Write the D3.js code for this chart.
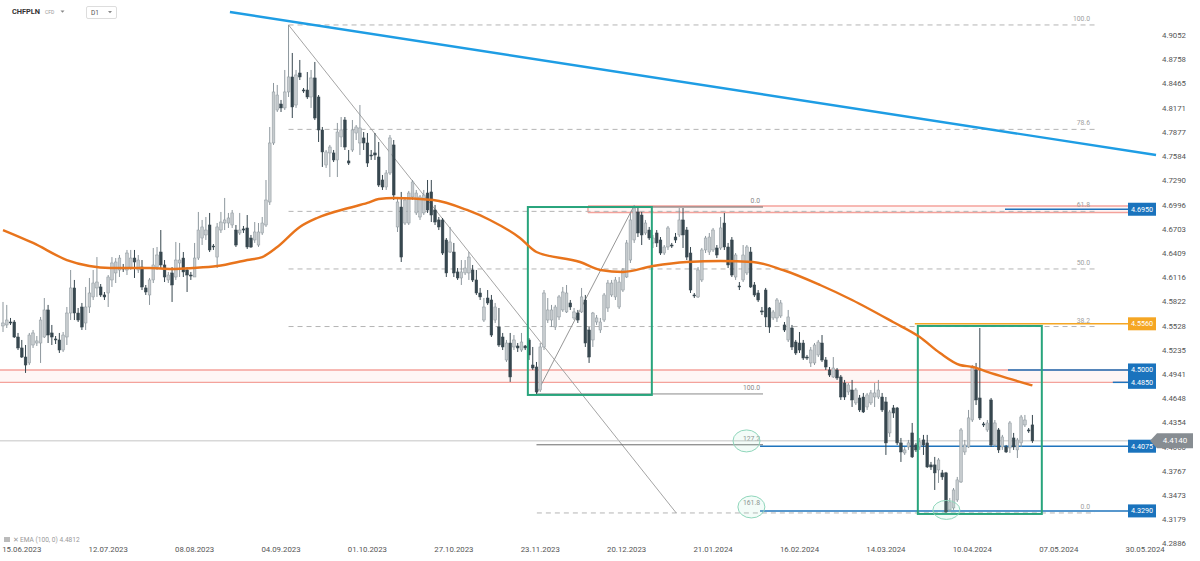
<!DOCTYPE html>
<html><head><meta charset="utf-8">
<script src="https://cdn.jsdelivr.net/npm/d3@7"></script>
<style>body{margin:0;background:#fff;}svg{display:block;font-family:Roboto,"Noto Sans",sans-serif;}</style>
</head><body><svg id="c" width="1200" height="561"></svg>
<script>
// ---- data (CHFPLN, D1) ----
const open = [
4.5534,4.5546,4.5582,4.5582,4.5400,4.5267,4.5157,4.5085,4.5303,4.5327,
4.5327,4.5400,4.5728,4.5449,4.5376,4.5364,4.5242,4.5400,4.5691,4.5995,
4.5691,4.5764,4.5570,4.5764,4.5886,4.5995,4.6007,4.5910,4.5934,4.6092,
4.6177,4.6213,4.6237,4.6213,4.6237,4.6358,4.6213,4.6249,4.5995,4.5910,
4.6092,4.6249,4.6431,4.6274,4.6092,4.6177,4.6128,4.6298,4.6358,4.6213,
4.6152,4.6128,4.6358,4.6601,4.6638,4.6759,4.6504,4.6370,4.6698,4.6783,
4.6783,4.6759,4.6698,4.6662,4.6711,4.6723,4.6601,4.6577,4.6516,4.6662,
4.6759,4.7038,4.7754,4.8154,4.8227,4.8179,4.8373,4.8555,4.8215,4.8603,
4.8397,4.8397,4.8312,4.8543,4.8312,4.7912,4.7487,4.7633,4.7633,4.7548,
4.7827,4.8033,4.7536,4.7669,4.7875,4.7754,4.7815,4.7754,4.7608,4.7633,
4.7584,4.7305,4.7220,4.7390,4.7730,4.6735,4.6977,4.6783,4.6783,4.7099,
4.6905,4.6856,4.6905,4.7147,4.7160,4.6941,4.6820,4.6820,4.6577,4.6431,
4.6431,4.6189,4.6116,4.6177,4.6177,4.6213,4.6092,4.5934,4.5606,4.5873,
4.5849,4.5606,4.5521,4.5400,4.5121,4.5327,4.5279,4.5291,4.5242,4.5291,
4.5364,4.5060,4.5036,4.4757,4.5279,4.5606,4.5606,4.5521,4.5643,4.5728,
4.5704,4.5813,4.5631,4.5691,4.5704,4.5849,4.5485,4.5364,4.5582,4.5485,
4.5606,4.5752,4.5910,4.5886,4.5764,4.5970,4.6128,4.6334,4.6577,4.6917,
4.6880,4.6662,4.6698,4.6541,4.6662,4.6577,4.6419,4.6492,4.6516,4.6613,
4.6638,4.6820,4.6698,4.6419,4.5910,4.5886,4.6092,4.6456,4.6431,4.6456,
4.6480,4.6480,4.6783,4.6492,4.6577,4.6128,4.6019,4.6092,4.6177,4.6431,
4.6031,4.5934,4.5716,4.5970,4.5752,4.5631,4.5631,4.5655,4.5546,4.5364,
4.5509,4.5339,4.5327,4.5327,4.5157,4.5085,4.5085,4.5182,4.5327,4.5121,
4.5000,4.4915,4.5000,4.4915,4.4842,4.4733,4.4757,4.4600,4.4660,4.4672,
4.4551,4.4600,4.4672,4.4672,4.4672,4.4612,4.4236,4.4539,4.4539,4.4115,
4.3993,4.4066,4.4236,4.4090,4.4066,4.4151,4.4115,4.3848,4.3848,4.3787,
4.3751,4.3751,4.3302,4.3326,4.3423,4.3641,4.4005,4.4066,4.4393,4.5000,
4.4660,4.4345,4.4272,4.4636,4.4090,4.4272,4.4066,4.4066,4.4054,4.4175,
4.4030,4.4115,4.4333,4.4272,4.4333];
const high = [
4.5825,4.5789,4.5631,4.5606,4.5449,4.5364,4.5303,4.5449,4.5485,4.5412,
4.5643,4.5873,4.5789,4.5546,4.5412,4.5449,4.5461,4.5764,4.6213,4.6092,
4.5752,4.5813,4.6007,4.6116,4.6213,4.6370,4.6043,4.5946,4.6152,4.6370,
4.6358,4.6395,4.6286,4.6456,4.6456,4.6456,4.6395,4.6334,4.6031,4.6116,
4.6480,4.6492,4.6698,4.6334,4.6189,4.6249,4.6553,4.6541,4.6431,4.6249,
4.6189,4.6541,4.6917,4.6820,4.6856,4.6905,4.6528,4.6783,4.6917,4.7087,
4.6905,4.6941,4.6759,4.6905,4.6747,4.6880,4.6638,4.6795,4.6783,4.6856,
4.7305,4.7948,4.8482,4.8458,4.8276,4.8640,4.9186,4.8846,4.8640,4.8761,
4.8421,4.8615,4.8640,4.8737,4.8336,4.7948,4.7669,4.7730,4.7669,4.7997,
4.8069,4.8069,4.7669,4.8033,4.7972,4.8215,4.7887,4.7875,4.7669,4.7875,
4.7766,4.7366,4.7426,4.7851,4.7790,4.7099,4.7160,4.7099,4.7172,4.7305,
4.7184,4.7123,4.7184,4.7305,4.7305,4.7002,4.6856,4.6844,4.6601,4.6735,
4.6541,4.6237,4.6334,4.6334,4.6431,4.6274,4.6213,4.5995,4.5873,4.5970,
4.5910,4.5813,4.5752,4.5449,4.5364,4.5449,4.5424,4.5327,4.5449,4.5303,
4.5388,4.5279,4.5097,4.5327,4.5970,4.5873,4.5789,4.5789,4.5910,4.6007,
4.6031,4.5849,4.5752,4.5728,4.5995,4.5910,4.5521,4.5704,4.5667,4.5631,
4.5934,4.6092,4.6092,4.6128,4.6128,4.6237,4.6577,4.6905,4.7002,4.6965,
4.6917,4.6820,4.6735,4.6638,4.6698,4.6613,4.6516,4.6747,4.6541,4.6662,
4.6965,4.6965,4.6735,4.6492,4.5934,4.6249,4.6480,4.6626,4.6662,4.6723,
4.6516,4.6856,4.6905,4.6541,4.6613,4.6419,4.6067,4.6516,4.6516,4.6492,
4.6067,4.5970,4.5764,4.5995,4.5764,4.5728,4.5873,4.5849,4.5582,4.5728,
4.5546,4.5364,4.5461,4.5364,4.5182,4.5279,4.5327,4.5364,4.5424,4.5157,
4.5036,4.5157,4.5024,4.4939,4.4879,4.4842,4.4879,4.4782,4.4697,4.4721,
4.4721,4.4757,4.4842,4.4879,4.4721,4.4672,4.4515,4.4575,4.4551,4.4175,
4.4066,4.4151,4.4357,4.4115,4.4175,4.4212,4.4212,4.3884,4.3945,4.3932,
4.3787,4.3763,4.3447,4.3568,4.3702,4.4296,4.4151,4.4515,4.5060,4.5085,
4.5509,4.4369,4.4393,4.4660,4.4393,4.4296,4.4212,4.4090,4.4381,4.4236,
4.4175,4.4454,4.4454,4.4296,4.4454];
const low = [
4.5461,4.5509,4.5546,4.5388,4.5242,4.5145,4.4964,4.5060,4.5267,4.5291,
4.5085,4.5388,4.5327,4.5303,4.5315,4.5206,4.5218,4.5303,4.5606,4.5606,
4.5582,4.5485,4.5485,4.5691,4.5849,4.5886,4.5886,4.5849,4.5764,4.6007,
4.6055,4.6128,4.6189,4.6152,4.6213,4.6116,4.6177,4.5970,4.5910,4.5789,
4.6055,4.6213,4.6237,4.6067,4.6055,4.5825,4.6092,4.6128,4.6128,4.5946,
4.6092,4.6128,4.6334,4.6516,4.6577,4.6431,4.6456,4.6237,4.6662,4.6698,
4.6723,4.6723,4.6492,4.6638,4.6662,4.6468,4.6480,4.6541,4.6492,4.6638,
4.6735,4.7002,4.7730,4.8130,4.8130,4.8154,4.8312,4.8057,4.8179,4.8518,
4.8361,4.8288,4.8179,4.8033,4.7766,4.7463,4.7451,4.7341,4.7523,4.7341,
4.7705,4.7669,4.7487,4.7645,4.7790,4.7608,4.7669,4.7463,4.7548,4.7548,
4.7220,4.7184,4.7184,4.7366,4.7062,4.6674,4.6310,4.6759,4.6759,4.7062,
4.6880,4.6820,4.6880,4.6905,4.6795,4.6759,4.6698,4.6395,4.6128,4.6419,
4.6128,4.6092,4.6031,4.6152,4.6092,4.6067,4.5910,4.5849,4.5582,4.5789,
4.5400,4.5570,4.5279,4.5242,4.5097,4.4855,4.5242,4.5218,4.5218,4.5242,
4.5121,4.5000,4.4709,4.4733,4.5242,4.5570,4.5521,4.5485,4.5606,4.5704,
4.5691,4.5728,4.5606,4.5570,4.5691,4.5279,4.5085,4.5279,4.5546,4.5449,
4.5582,4.5704,4.5886,4.5849,4.5740,4.5946,4.6116,4.6298,4.6541,4.6613,
4.6516,4.6638,4.6577,4.6480,4.6492,4.6395,4.6395,4.6456,4.6480,4.6541,
4.6613,4.6480,4.6334,4.5934,4.5873,4.5873,4.6067,4.6419,4.6395,4.6431,
4.6358,4.6456,4.6456,4.6237,4.6128,4.6092,4.5970,4.6067,4.6152,4.5995,
4.5886,4.5825,4.5667,4.5521,4.5449,4.5606,4.5582,4.5631,4.5461,4.5339,
4.5242,4.5182,4.5206,4.5121,4.5121,4.5036,4.5060,4.5157,4.5097,4.5000,
4.4915,4.4903,4.4879,4.4636,4.4636,4.4697,4.4551,4.4575,4.4490,4.4478,
4.4515,4.4575,4.4551,4.4648,4.4490,4.3969,4.4187,4.4418,4.4090,4.3884,
4.3969,4.4030,4.3932,4.4005,4.4030,4.3969,4.3811,4.3787,4.3544,4.3629,
4.3666,4.3265,4.3277,4.3302,4.3399,4.3629,4.3969,4.4054,4.4369,4.4575,
4.4393,4.4308,4.4248,4.4066,4.4066,4.3993,4.4030,4.3993,4.3993,4.4030,
4.3932,4.4066,4.4308,4.4236,4.4115];
const close = [
4.5570,4.5606,4.5576,4.5400,4.5267,4.5157,4.5060,4.5424,4.5449,4.5352,
4.5606,4.5728,4.5424,4.5400,4.5364,4.5242,4.5424,4.5691,4.5995,4.5691,
4.5606,4.5521,4.5764,4.5934,4.6055,4.6067,4.5910,4.5886,4.6128,4.6298,
4.6310,4.6358,4.6225,4.6419,4.6358,4.6310,4.6334,4.6007,4.5946,4.6092,
4.6274,4.6395,4.6274,4.6128,4.6152,4.6031,4.6334,4.6334,4.6189,4.6152,
4.6140,4.6358,4.6698,4.6735,4.6698,4.6456,4.6492,4.6735,4.6795,4.6820,
4.6844,4.6905,4.6516,4.6698,4.6698,4.6492,4.6492,4.6674,4.6674,4.6783,
4.7062,4.7754,4.8373,4.8336,4.8179,4.8373,4.8555,4.8191,4.8579,4.8555,
4.8385,4.8312,4.8543,4.8057,4.7912,4.7645,4.7645,4.7705,4.7548,4.7887,
4.7912,4.7705,4.7511,4.7912,4.7948,4.7936,4.7754,4.7511,4.7596,4.7608,
4.7244,4.7220,4.7390,4.7815,4.7123,4.7038,4.6370,4.7062,4.7147,4.7281,
4.7147,4.7099,4.7123,4.6941,4.6880,4.6795,4.6735,4.6419,4.6177,4.6553,
4.6177,4.6116,4.6189,4.6237,4.6370,4.6092,4.5934,4.5886,4.5764,4.5813,
4.5424,4.5764,4.5303,4.5279,4.5327,4.4915,4.5364,4.5267,4.5339,4.5267,
4.5182,4.5024,4.4733,4.5279,4.5934,4.5728,4.5728,4.5764,4.5886,4.5946,
4.5934,4.5764,4.5704,4.5606,4.5886,4.5327,4.5157,4.5691,4.5631,4.5582,
4.5910,4.6055,4.6055,4.6092,4.6067,4.6213,4.6541,4.6820,4.6965,4.6662,
4.6638,4.6783,4.6601,4.6601,4.6541,4.6419,4.6492,4.6723,4.6504,4.6577,
4.6820,4.6638,4.6370,4.5970,4.5898,4.6213,4.6456,4.6601,4.6613,4.6698,
4.6395,4.6723,4.6492,4.6274,4.6152,4.6395,4.6007,4.6395,4.6492,4.6007,
4.5910,4.5849,4.5704,4.5643,4.5521,4.5704,4.5849,4.5813,4.5485,4.5643,
4.5279,4.5206,4.5242,4.5145,4.5145,4.5242,4.5303,4.5339,4.5121,4.5036,
4.4939,4.5024,4.4903,4.4672,4.4672,4.4818,4.4636,4.4757,4.4515,4.4490,
4.4697,4.4721,4.4721,4.4757,4.4515,4.4115,4.4490,4.4478,4.4115,4.4005,
4.4030,4.4115,4.3945,4.4030,4.4127,4.4090,4.3823,4.3823,4.3751,4.3908,
4.3702,4.3277,4.3399,4.3544,4.3666,4.4272,4.4090,4.4418,4.5036,4.4636,
4.4418,4.4333,4.4357,4.4090,4.4357,4.4030,4.4187,4.4005,4.4357,4.4066,
4.4151,4.4430,4.4393,4.4260,4.4140];

// EMA(100): bar index / value
const emaIdx = [0,8,17,23,28.5,39,45,50.6,57,65,69,73,79,83.6,92,97,100,104,114.5,123.5,129.6,137.6,142,153.6,159,165,173,182,191,199.6,207.6,217.5,226,236.9,244,249.4,254.7,258.2,262,269,274];
const emaVal = [4.6698,4.6541,4.6334,4.6261,4.6237,4.6237,4.6225,4.6237,4.6261,4.6334,4.6370,4.6492,4.6735,4.6844,4.6965,4.7026,4.7075,4.7087,4.7062,4.6941,4.6820,4.6601,4.6431,4.6310,4.6213,4.6189,4.6261,4.6310,4.6322,4.6310,4.6213,4.6031,4.5849,4.5582,4.5400,4.5206,4.5060,4.5036,4.4976,4.4879,4.4812];

const dateLabels = ["15.06.2023","12.07.2023","08.08.2023","04.09.2023","01.10.2023","27.10.2023","23.11.2023","20.12.2023","21.01.2024","16.02.2024","14.03.2024","10.04.2024","07.05.2024","30.05.2024"];
const dateIdx = [5,28,51,74,97,120,143,166,189,212,235,258,281,304];
const yTicks = [4.9052,4.8758,4.8465,4.8171,4.7877,4.7584,4.7290,4.6996,4.6703,4.6409,4.6116,4.5822,4.5528,4.5235,4.4941,4.4648,4.4354,4.4060,4.3767,4.3473,4.3179,4.2886];

// drawings
const trendIdx = [60.4, 306.9];
const trendVal = [4.9343, 4.7608];
const fib1Levels = [100.0, 78.6, 61.8, 50.0, 38.2, 0.0];
const fib1Idx = [76, 179.2];
const fib1Val = [4.9186, 4.3265];
const fib2Levels = [0.0, 100.0, 127.2, 161.8];
const fib2Idx = [142, 167.8];
const fib2Val = [4.4709, 4.6977];
const boxIdx = [[139.7, 172.7], [243.5, 276.5]];
const boxVal = [[4.6977, 4.4697], [4.5534, 4.3253]];
const levelVals = [4.6950, 4.5560, 4.5000, 4.4850, 4.4075, 4.3290];
const levelKind = ["blue", "orange", "blue", "blue", "blue", "blue"];
const levelStartIdx = [266.7, 242.7, 267.5, 295.4, 201.5, 201.5];
const zoneVals = [[4.5000, 4.4850], [4.6990, 4.6910]];
const zoneStartIdx = [-1, 155.7];
const lastPrice = 4.4140;
const emaLast = 4.4812;
const circleIdx = [197.9, 199.2, 251.1];
const circleVal = [4.4139, 4.3338, 4.3302];

// ---- drawing ----
const svg = d3.select("#c");
const n = close.length;
const x = d3.scaleLinear().domain([0, n - 1]).range([3, 3 + (n - 1) * 3.757]);
const y = d3.scaleLinear().domain([4.2886, 4.9052]).range([544.2, 36]);
const BOX_L = 1128, BOX_R = 1156;

svg.append("rect").attr("width", 1200).attr("height", 561).attr("fill", "#fff");

// zones (red)
const gz = svg.append("g");
zoneVals.forEach((z, k) => {
  const x0 = zoneStartIdx[k] < 0 ? 0 : x(zoneStartIdx[k]);
  gz.append("rect").attr("x", x0).attr("y", y(z[0])).attr("width", BOX_L - x0).attr("height", y(z[1]) - y(z[0]))
    .attr("fill", "rgba(244,140,130,0.08)");
  [z[0], z[1]].forEach(v => gz.append("line").attr("x1", x0).attr("x2", BOX_L).attr("y1", y(v)).attr("y2", y(v))
    .attr("stroke", "#f4a29b").attr("stroke-width", 1.4));
  if (k === 1) gz.append("line").attr("x1", x0).attr("x2", x0).attr("y1", y(z[0])).attr("y2", y(z[1])).attr("stroke", "#f4a29b").attr("stroke-width", 1.4);
});

// fib 1 (dashed levels)
const gf = svg.append("g");
const f1Right = (1095 - 3) / 3.757;
fib1Levels.forEach(l => {
  const v = fib1Val[1] + l / 100 * (fib1Val[0] - fib1Val[1]);
  const xs = l === 0 ? x(142.1) : x(fib1Idx[0]);
  gf.append("line").attr("x1", xs).attr("x2", x(f1Right)).attr("y1", y(v)).attr("y2", y(v))
    .attr("stroke", "#b4b4b4").attr("stroke-width", 1).attr("stroke-dasharray", "5,4");
  gf.append("text").attr("x", x(f1Right) - 5).attr("y", y(v) - 4).attr("text-anchor", "end")
    .attr("font-size", 6.8).attr("fill", "#a0a0a0").text(l.toFixed(1));
});
gf.append("line").attr("x1", x(fib1Idx[0])).attr("y1", y(fib1Val[0])).attr("x2", x(fib1Idx[1])).attr("y2", y(fib1Val[1]))
  .attr("stroke", "#9a9a9a").attr("stroke-width", 0.9);

// fib 2 (solid levels)
const f2Right = (763 - 3) / 3.757;
fib2Levels.forEach(l => {
  const v = fib2Val[1] - l / 100 * (fib2Val[1] - fib2Val[0]);
  const xs = l === 0 ? x(155.7) : x(fib2Idx[0]);
  if (l !== 161.8) gf.append("line").attr("x1", xs).attr("x2", x(f2Right)).attr("y1", y(v)).attr("y2", y(v))
    .attr("stroke", l === 100 ? "#8a8a8a" : "#6a6a6a").attr("stroke-width", 1);
  gf.append("text").attr("x", x(f2Right) - 3).attr("y", y(v) - 4).attr("text-anchor", "end")
    .attr("font-size", 6.8).attr("fill", "#8a8a8a").text(l.toFixed(1));
});
gf.append("line").attr("x1", x(fib2Idx[0])).attr("y1", y(fib2Val[0])).attr("x2", x(fib2Idx[1])).attr("y2", y(fib2Val[1]))
  .attr("stroke", "#8a8a8a").attr("stroke-width", 0.9);

// current price line
svg.append("line").attr("x1", 0).attr("x2", 1152).attr("y1", y(lastPrice)).attr("y2", y(lastPrice))
  .attr("stroke", "#c4c4c4").attr("stroke-width", 1);

// level lines
const lvlColor = {blue: "#1f74bd", orange: "#f5a623"};
levelVals.forEach((v, k) => {
  svg.append("line").attr("x1", x(levelStartIdx[k])).attr("x2", BOX_L).attr("y1", y(v)).attr("y2", y(v))
    .attr("stroke", lvlColor[levelKind[k]]).attr("stroke-width", 1.5);
});

// candles
const gc = svg.append("g");
d3.range(n).forEach(i => {
  const up = close[i] >= open[i];
  const col = up ? "#8d979d" : "#37474f";
  gc.append("line").attr("x1", x(i)).attr("x2", x(i)).attr("y1", y(high[i])).attr("y2", y(low[i]))
    .attr("stroke", col).attr("stroke-width", 1);
  const top = y(Math.max(open[i], close[i])), bot = y(Math.min(open[i], close[i]));
  gc.append("rect").attr("x", x(i) - 1.35).attr("width", 2.7).attr("y", top).attr("height", Math.max(1, bot - top))
    .attr("fill", up ? "#c6cbce" : "#37474f").attr("stroke", col).attr("stroke-width", 0.5);
});

// green boxes
boxIdx.forEach((b, k) => {
  svg.append("rect").attr("x", x(b[0])).attr("y", y(boxVal[k][0])).attr("width", x(b[1]) - x(b[0]))
    .attr("height", y(boxVal[k][1]) - y(boxVal[k][0])).attr("fill", "none").attr("stroke", "#28a47c").attr("stroke-width", 2);
});

// ellipses
circleIdx.forEach((ci, k) => {
  svg.append("ellipse").attr("cx", x(ci)).attr("cy", y(circleVal[k])).attr("rx", 13.5).attr("ry", k === 2 ? 9.5 : 11)
    .attr("fill", "rgba(160,230,200,0.12)").attr("stroke", "#8fd6bb").attr("stroke-width", 1);
});

// EMA
svg.append("path").datum(emaIdx.map((d, k) => [d, emaVal[k]]))
  .attr("d", d3.line().x(d => x(d[0])).y(d => y(d[1])).curve(d3.curveMonotoneX))
  .attr("fill", "none").attr("stroke", "#e8741c").attr("stroke-width", 2.4);

// trend line
svg.append("line").attr("x1", x(trendIdx[0])).attr("y1", y(trendVal[0])).attr("x2", x(trendIdx[1])).attr("y2", y(trendVal[1]))
  .attr("stroke", "#1e9de4").attr("stroke-width", 2.4);

// y ticks
svg.append("g").selectAll("text").data(yTicks).join("text")
  .attr("x", 1162).attr("y", d => y(d)).attr("dominant-baseline", "middle")
  .attr("font-size", 7.8).attr("fill", "#555").text(d => d.toFixed(4));

// level boxes
levelVals.forEach((v, k) => {
  const yy = y(v);
  svg.append("rect").attr("x", BOX_L).attr("y", yy - 6.5).attr("width", BOX_R - BOX_L).attr("height", 13)
    .attr("fill", levelKind[k] === "orange" ? "#f5a623" : "#1a73bd");
  svg.append("text").attr("x", (BOX_L + BOX_R) / 2).attr("y", yy + 0.5).attr("text-anchor", "middle").attr("dominant-baseline", "middle")
    .attr("font-size", 7.2).attr("fill", "#fff").text(v.toFixed(4));
});

// last price tag (covers the 4.4060 tick as in the original)
{
  const yy = y(lastPrice);
  svg.append("path").attr("d", `M1150,${yy} L1157,${yy - 7.5} H1193 V${yy + 7.5} H1157 Z`).attr("fill", "#878d92");
  svg.append("text").attr("x", 1175).attr("y", yy + 0.5).attr("text-anchor", "middle").attr("dominant-baseline", "middle")
    .attr("font-size", 8).attr("fill", "#fff").text(lastPrice.toFixed(4));
}

// x labels
svg.append("g").selectAll("text").data(dateLabels).join("text")
  .attr("x", (d, k) => x(dateIdx[k])).attr("y", 550).attr("text-anchor", "middle").attr("dominant-baseline", "middle")
  .attr("font-size", 7.8).attr("fill", "#555").text(d => d);

// legend
svg.append("rect").attr("x", 4).attr("y", 537).attr("width", 6).attr("height", 5).attr("fill", "#bbb");
svg.append("text").attr("x", 12.5).attr("y", 540).attr("dominant-baseline", "middle").attr("font-size", 7).attr("fill", "#999").text("✕");
svg.append("text").attr("x", 20).attr("y", 540.5).attr("dominant-baseline", "middle").attr("font-size", 6.6).attr("fill", "#999")
  .text("EMA (100, 0) " + emaLast.toFixed(4));

// header
svg.append("text").attr("x", 12).attr("y", 12.5).attr("dominant-baseline", "middle").attr("font-size", 7.4).attr("font-weight", 700)
  .attr("fill", "#333").text("CHFPLN");
svg.append("text").attr("x", 45).attr("y", 13).attr("dominant-baseline", "middle").attr("font-size", 5).attr("fill", "#999").text("CFD");
svg.append("path").attr("d", "M60.5,10.5 L64.5,10.5 L62.5,12.8 Z").attr("fill", "#888");
svg.append("rect").attr("x", 86.5).attr("y", 6.5).attr("width", 30).attr("height", 12).attr("rx", 1.5).attr("fill", "#fff").attr("stroke", "#ddd");
svg.append("text").attr("x", 91).attr("y", 12.8).attr("dominant-baseline", "middle").attr("font-size", 6.5).attr("fill", "#555").text("D1");
svg.append("path").attr("d", "M108,11 L112,11 L110,13.3 Z").attr("fill", "#888");
</script></body></html>
